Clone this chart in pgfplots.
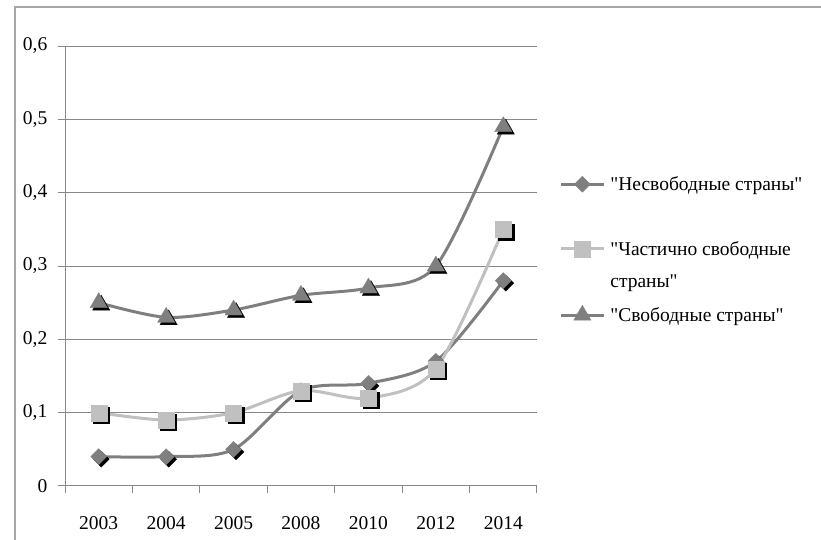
\documentclass[border=0pt]{standalone}
\usepackage{fontspec}
\setmainfont{Liberation Serif}[Ligatures=TeXOff]
\usepackage{pgfplots}
\pgfplotsset{compat=1.18}
\definecolor{dg}{HTML}{7F7F7F}
\definecolor{lg}{HTML}{C0C0C0}
\definecolor{gridc}{HTML}{888888}
\definecolor{framec}{HTML}{A6A6A6}
\newcommand{\fs}{\fontsize{19.5bp}{23bp}\selectfont}
\begin{document}
\fs
\begin{tikzpicture}
\useasboundingbox (0,0) rectangle (821bp,540bp);
\draw[framec, line width=1.3bp] (15bp,0) -- (15bp,533bp) -- (821bp,533bp);
\begin{axis}[
  at={(65bp,54bp)}, anchor=south west, scale only axis,
  width=472bp, height=440bp,
  xmin=0, xmax=7, ymin=0, ymax=0.6,
  axis lines*=left,
  axis line style={gridc, line width=1bp},
  ytick={0,0.1,0.2,0.3,0.4,0.5,0.6},
  ymajorgrids, grid style={gridc, line width=1bp},
  xtick={0.5,1.5,2.5,3.5,4.5,5.5,6.5},
  xticklabels={2003,2004,2005,2008,2010,2012,2014},
  minor xtick={0,1,2,3,4,5,6,7},
  tick align=outside, major tick length=7bp, minor tick length=7bp,
  major x tick style={draw=none},
  minor x tick style={gridc, line width=1bp},
  major y tick style={gridc, line width=1bp},
  /pgf/number format/use comma,
  /pgf/number format/fixed,
  /pgf/number format/precision=1,
  /pgf/number format/assume math mode=true,
  x tick label style={yshift=-17bp, font=\fs},
  y tick label style={xshift=-4bp, font=\fs},
  legend style={at={(1.047,0.7045)}, anchor=north west, draw=none, fill=none,
    inner sep=0pt, row sep=13bp, column sep=5bp,
    nodes={inner sep=0pt, text height=14bp, text depth=5bp}, cells={anchor=base west},
    font=\fs},
  legend image code/.code={\draw[#1, mark repeat=2, mark phase=2, yshift=6.5bp] plot coordinates {(0bp,0bp)(21.5bp,0bp)(43bp,0bp)};},
  every axis plot/.append style={line width=3bp},
]
% Несвободные страны
\addplot[only marks, forget plot, mark=square*, mark size=5.66bp, black,
  mark options={xshift=2.5bp, yshift=-2.5bp, rotate=45, line width=0.3bp}]
  coordinates {(0.5,0.04)(1.5,0.04)(2.5,0.05)(3.5,0.13)(4.5,0.14)(5.5,0.17)(6.5,0.28)};
\addplot[dg, smooth, mark=square*, mark size=5.66bp,
  mark options={rotate=45, solid, line width=0.3bp, fill=dg}]
  coordinates {(0.5,0.04)(1.5,0.04)(2.5,0.05)(3.5,0.13)(4.5,0.14)(5.5,0.17)(6.5,0.28)};
\addlegendentry{"Несвободные страны"}
\addlegendimage{empty legend}
\addlegendentry{}
% Частично свободные страны
\addplot[only marks, forget plot, mark=square*, mark size=8bp, black,
  mark options={xshift=2.5bp, yshift=-2.5bp, line width=0.3bp}]
  coordinates {(0.5,0.10)(1.5,0.09)(2.5,0.10)(3.5,0.13)(4.5,0.12)(5.5,0.16)(6.5,0.35)};
\addplot[lg, smooth, mark=square*, mark size=8bp,
  mark options={solid, line width=0.3bp, fill=lg}]
  coordinates {(0.5,0.10)(1.5,0.09)(2.5,0.10)(3.5,0.13)(4.5,0.12)(5.5,0.16)(6.5,0.35)};
\addlegendentry{"Частично свободные}
\addlegendimage{empty legend}
\addlegendentry{страны"}
% Свободные страны
\addplot[only marks, forget plot, mark=triangle*, mark size=10bp, black,
  mark options={xshift=2.5bp, yshift=-2.5bp, line width=0.3bp}]
  coordinates {(0.5,0.25)(1.5,0.23)(2.5,0.24)(3.5,0.26)(4.5,0.27)(5.5,0.30)(6.5,0.49)};
\addplot[dg, smooth, mark=triangle*, mark size=10bp,
  mark options={solid, line width=0.3bp, fill=dg}]
  coordinates {(0.5,0.25)(1.5,0.23)(2.5,0.24)(3.5,0.26)(4.5,0.27)(5.5,0.30)(6.5,0.49)};
\addlegendentry{"Свободные страны"}
\end{axis}
\end{tikzpicture}
\end{document}
